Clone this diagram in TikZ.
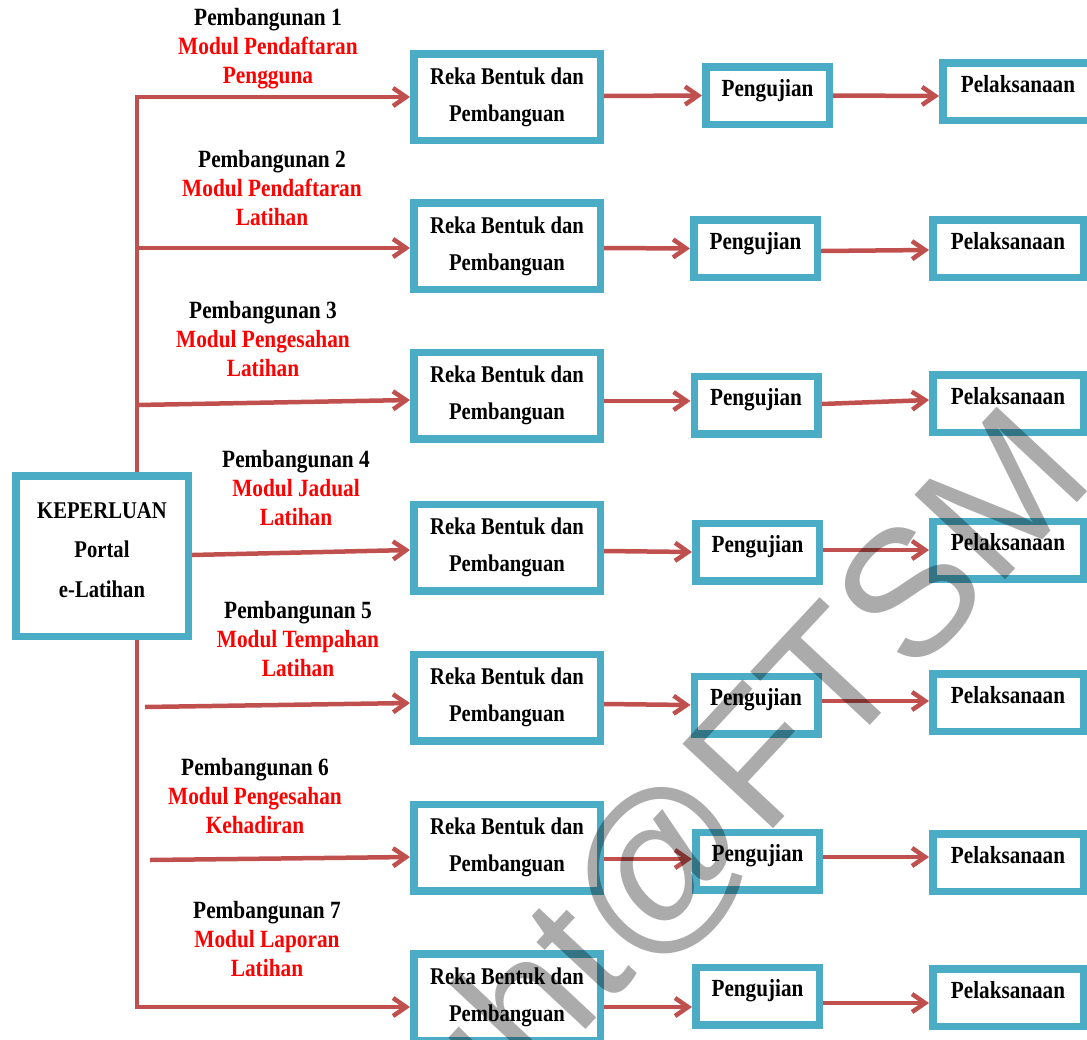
\documentclass[tikz,border=0pt]{standalone}
\usepackage{fontspec}
\setmainfont{Liberation Serif}[FakeStretch=0.86]
\newfontfamily\wmfont{Liberation Sans}
\usetikzlibrary{arrows.meta}
\definecolor{boxteal}{HTML}{4BACC6}
\definecolor{arrred}{HTML}{C0504D}
\definecolor{labred}{HTML}{FF0000}
\pgfdeclarelayer{background}
\pgfsetlayers{background,main}
\begin{document}
\begin{tikzpicture}[x=1pt,y=-1pt,
  bx/.style={draw=boxteal, line width=7.5pt, fill=white, inner sep=0pt},
  kepbox/.style={bx, minimum width=172.5pt, minimum height=160.5pt,
    font=\bfseries\fontsize{24}{39.5}\selectfont},
  rekabox/.style={bx, minimum width=186.5pt, minimum height=86.5pt, align=center,
    font=\bfseries\fontsize{24}{37}\selectfont},
  pengbox/.style={bx, minimum width=123.5pt, minimum height=57.5pt,
    font=\bfseries\fontsize{24.6}{28}\selectfont, text height=18pt, text depth=17pt},
  pelbox/.style={bx, minimum width=150.5pt, minimum height=57.5pt,
    font=\bfseries\fontsize{24.6}{28}\selectfont, text height=18pt, text depth=17pt},
  lab/.style={align=center, inner sep=0pt, font=\bfseries\fontsize{24.8}{29}\selectfont},
  arr/.style={draw=arrred, line width=4.5pt, -{Straight Barb[length=13pt,width=18pt]}},
  arrboth/.style={draw=arrred, line width=4.5pt, {Straight Barb[length=13pt,width=18pt]}-{Straight Barb[length=13pt,width=18pt]}},
  wm/.style={font=\wmfont\fontsize{180}{180}\selectfont, text=black, text opacity=0.33, inner sep=0pt}
]
\useasboundingbox (0,0) rectangle (1087,1039);
\clip (0,0) rectangle (1087,1039);

% requirement box
\node[kepbox] (kep) at (102,556) {\raisebox{6pt}[\height][\depth]{\begin{tabular}{@{}c@{}}KEPERLUAN\\Portal\\e-Latihan\end{tabular}}};

% design boxes
\node[rekabox] (r1) at (507,97) {Reka Bentuk dan\\Pembanguan};
\node[rekabox] (r2) at (507,246) {Reka Bentuk dan\\Pembanguan};
\node[rekabox] (r3) at (507,395.5) {Reka Bentuk dan\\Pembanguan};
\node[rekabox] (r4) at (507,547.5) {Reka Bentuk dan\\Pembanguan};
\node[rekabox] (r5) at (507,697.5) {Reka Bentuk dan\\Pembanguan};
\node[rekabox] (r6) at (507,847.5) {Reka Bentuk dan\\Pembanguan};
\node[rekabox] (r7) at (507,997) {Reka Bentuk dan\\Pembanguan};

% testing boxes
\node[pengbox] (p1) at (767.5,95.5) {Pengujian};
\node[pengbox] (p2) at (755.5,248.5) {Pengujian};
\node[pengbox] (p3) at (756,405) {Pengujian};
\node[pengbox] (p4) at (757.5,552) {Pengujian};
\node[pengbox] (p5) at (756,705) {Pengujian};
\node[pengbox] (p6) at (757.5,861) {Pengujian};
\node[pengbox] (p7) at (757.5,996) {Pengujian};

% implementation boxes
\node[pelbox] (q1) at (1018,91.5) {Pelaksanaan};
\node[pelbox] (q2) at (1008,248.5) {Pelaksanaan};
\node[pelbox] (q3) at (1008,403.5) {Pelaksanaan};
\node[pelbox] (q4) at (1008,550) {Pelaksanaan};
\node[pelbox] (q5) at (1008,702.5) {Pelaksanaan};
\node[pelbox] (q6) at (1008,862.5) {Pelaksanaan};
\node[pelbox] (q7) at (1008,997.5) {Pelaksanaan};

% branch labels
\node[lab] (l1) at (268,48.5) {Pembangunan 1\\\textcolor{labred}{Modul Pendaftaran}\\\textcolor{labred}{Pengguna}};
\node[lab] (l2) at (272,188) {Pembangunan 2\\\textcolor{labred}{Modul Pendaftaran}\\\textcolor{labred}{Latihan}};
\node[lab] (l3) at (263,339) {Pembangunan 3\\\textcolor{labred}{Modul Pengesahan}\\\textcolor{labred}{Latihan}};
\node[lab] (l4) at (296,488) {Pembangunan 4\\\textcolor{labred}{Modul Jadual}\\\textcolor{labred}{Latihan}};
\node[lab] (l5) at (298,639) {Pembangunan 5\\\textcolor{labred}{Modul Tempahan}\\\textcolor{labred}{Latihan}};
\node[lab] (l6) at (255,796) {Pembangunan 6\\\textcolor{labred}{Modul Pengesahan}\\\textcolor{labred}{Kehadiran}};
\node[lab] (l7) at (267,939) {Pembangunan 7\\\textcolor{labred}{Modul Laporan}\\\textcolor{labred}{Latihan}};

% connector anchor points
\coordinate (t1) at (137,97);
\coordinate (t2) at (137,248);
\coordinate (t3) at (137,405);
\coordinate (s5) at (145,707);
\coordinate (s6) at (150,860);
\coordinate (t7) at (137,1007);

\begin{pgfonlayer}{background}
  \draw[arrboth] (r1.west) -- (t1) -- (t7) -- ([yshift=-10pt]r7.west);
  \draw[arr] (t2) -- ([yshift=-2pt]r2.west);
  \draw[arr] (t3) -- ([yshift=-4.5pt]r3.west);
  \draw[arr] ([yshift=1pt]kep.east) -- ([yshift=-2.5pt]r4.west);
  \draw[arr] (s5) -- ([yshift=-5.5pt]r5.west);
  \draw[arr] (s6) -- ([yshift=-9.5pt]r6.west);

  \draw[arr] ([yshift=1pt]r1.east) -- (p1.west);
  \draw[arr] ([yshift=-2pt]r2.east) -- (p2.west);
  \draw[arr] ([yshift=-5.5pt]r3.east) -- ([yshift=4pt]p3.west);
  \draw[arr] ([yshift=-3.5pt]r4.east) -- (p4.west);
  \draw[arr] ([yshift=-6.5pt]r5.east) -- (p5.west);
  \draw[arr] ([yshift=-11.5pt]r6.east) -- ([yshift=2pt]p6.west);
  \draw[arr] ([yshift=-10pt]r7.east) -- ([yshift=-11pt]p7.west);

  \draw[arr] (p1.east) -- ([yshift=-4.5pt]q1.west);
  \draw[arr] ([yshift=-2.5pt]p2.east) -- ([yshift=-1.5pt]q2.west);
  \draw[arr] ([yshift=1pt]p3.east) -- ([yshift=3.5pt]q3.west);
  \draw[arr] ([yshift=2pt]p4.east) -- (q4.west);
  \draw[arr] ([yshift=4pt]p5.east) -- ([yshift=1.5pt]q5.west);
  \draw[arr] ([yshift=4pt]p6.east) -- ([yshift=5.5pt]q6.west);
  \draw[arr] ([yshift=-7pt]p7.east) -- ([yshift=-5.5pt]q7.west);
\end{pgfonlayer}

% watermark
\node[wm, rotate=47, anchor=base east] (wmark) at (1098,481) {Copyright@FTSM};
\end{tikzpicture}
\end{document}
